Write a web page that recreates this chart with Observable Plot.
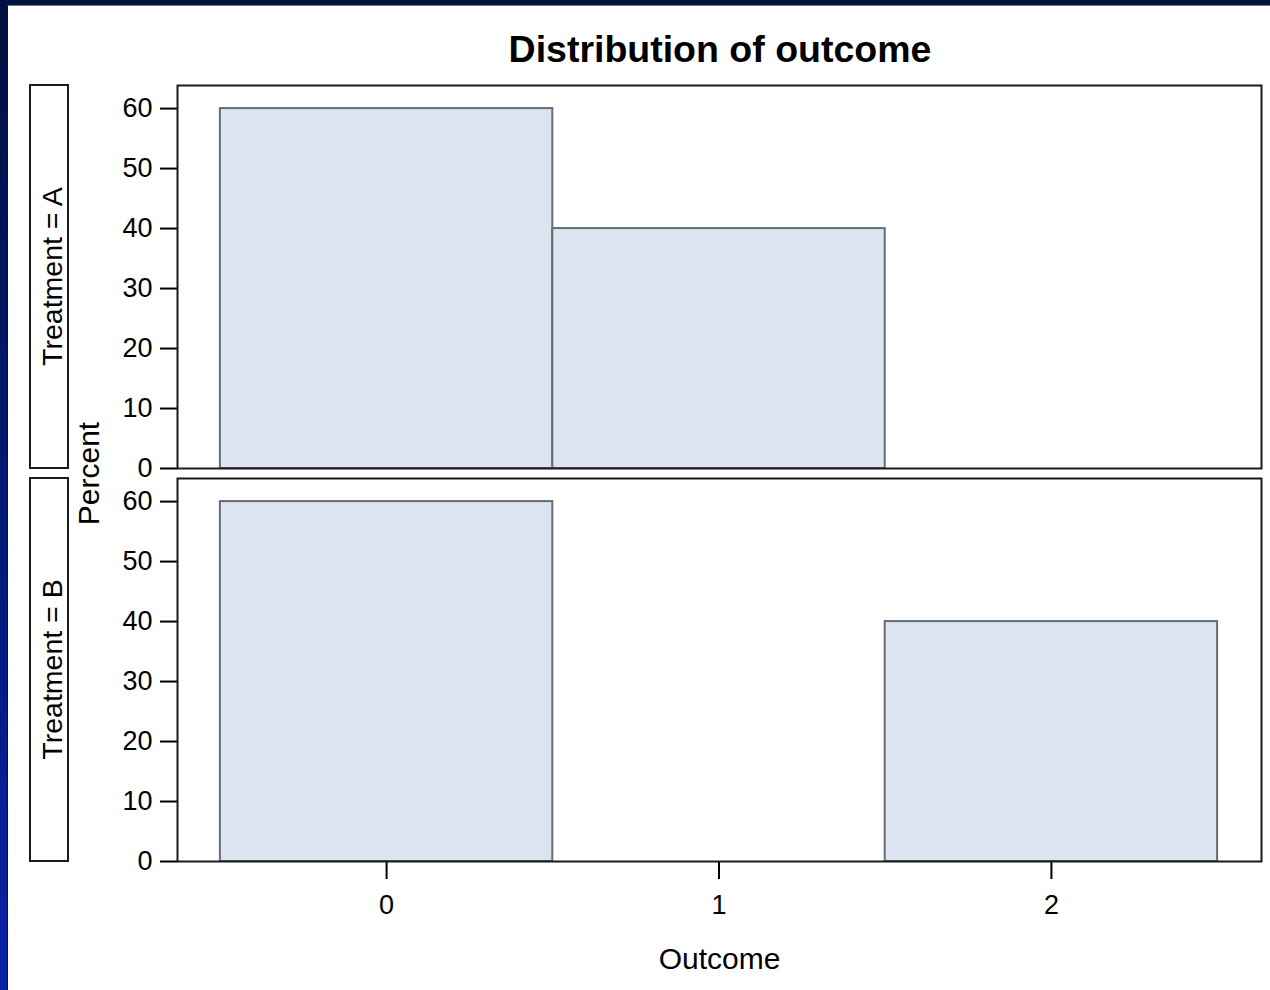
<!DOCTYPE html>
<html><head><meta charset="utf-8">
<script src="https://cdn.jsdelivr.net/npm/d3@7"></script>
<script src="https://cdn.jsdelivr.net/npm/@observablehq/plot@0.6"></script>
<style>
html,body{margin:0;padding:0;}
body{width:1270px;height:990px;background:linear-gradient(to bottom,#001040,#0722a8);position:relative;overflow:hidden;}
#paper{position:absolute;left:7px;top:5px;width:1263px;height:985px;background:#fff;border-left:1px solid #111;border-top:1px solid #777;box-sizing:border-box;}
#chart{position:absolute;left:0;top:0;}
</style></head><body>
<div id="paper"></div>
<div id="chart"></div>
<script>
const title = "Distribution of outcome";
const treatments = ["A", "B"];
const outcomes = [0, 1, 2];
const percentA = [60, 40, 0];
const percentB = [60, 0, 40];
const yTicks = [0, 10, 20, 30, 40, 50, 60];
const xTicks = [0, 1, 2];
const xLabel = "Outcome";
const yLabel = "Percent";
const facetPrefix = "Treatment = ";

const percents = {A: percentA, B: percentB};
const data = treatments.flatMap(t => outcomes.map((o, i) => ({treatment: t, outcome: o, percent: percents[t][i]})));

const font = "'Liberation Sans', Arial, Helvetica, sans-serif";
const plot = Plot.plot({
  width: 1270, height: 990,
  marginTop: 85, marginBottom: 128, marginLeft: 177, marginRight: 9,
  style: {background: "transparent", fontFamily: font, fontSize: "27px", color: "#000"},
  x: {domain: [-0.629, 2.632]},
  y: {domain: [0, 63.85]},
  fy: {domain: treatments, axis: null, paddingInner: 0.0254, paddingOuter: 0},
  marks: [
    Plot.rect(data.filter(d => d.percent > 0), {
      x1: d => d.outcome - 0.5, x2: d => d.outcome + 0.5, y1: 0, y2: "percent", fy: "treatment",
      fill: "#dce4f0", stroke: "#646d77", strokeWidth: 2
    }),
    Plot.axisY({ticks: yTicks, tickSize: 17, tickPadding: 8, label: null, tickFormat: d => String(d), strokeWidth: 2}),
    Plot.axisX({ticks: xTicks, tickSize: 18, tickPadding: 15, label: null, tickFormat: d => String(d), strokeWidth: 2}),
    Plot.axisX({ticks: [], label: xLabel, labelAnchor: "center", labelArrow: "none", labelOffset: 107, fontSize: 30}),
    Plot.frame({stroke: "#1a1a1a", strokeWidth: 2})
  ]
});
document.getElementById("chart").appendChild(plot);

const svg = d3.select(plot);
const fy = plot.scale("fy");
const xs = plot.scale("x");
const g = svg.append("g").attr("font-family", font).attr("fill", "#000");
treatments.forEach(t => {
  const y0 = fy.apply(t);
  const bw = fy.bandwidth;
  g.append("rect").attr("x", 30).attr("y", y0).attr("width", 38).attr("height", bw)
    .attr("fill", "none").attr("stroke", "#1a1a1a").attr("stroke-width", 2);
  g.append("text").attr("transform", `translate(62,${y0 + bw / 2}) rotate(-90)`)
    .attr("font-size", 28.5).attr("text-anchor", "middle").text(facetPrefix + t);
});
g.append("text").attr("transform", `translate(99,${(fy.range[0] + fy.range[1]) / 2}) rotate(-90)`)
  .attr("font-size", 30).attr("text-anchor", "middle").text(yLabel);
svg.append("text").attr("x", (xs.range[0] + xs.range[1]) / 2 + 1).attr("y", 62)
  .attr("text-anchor", "middle").attr("font-family", font).attr("font-size", 37.5)
  .attr("font-weight", "bold").attr("fill", "#000").text(title);
</script>
</body></html>
